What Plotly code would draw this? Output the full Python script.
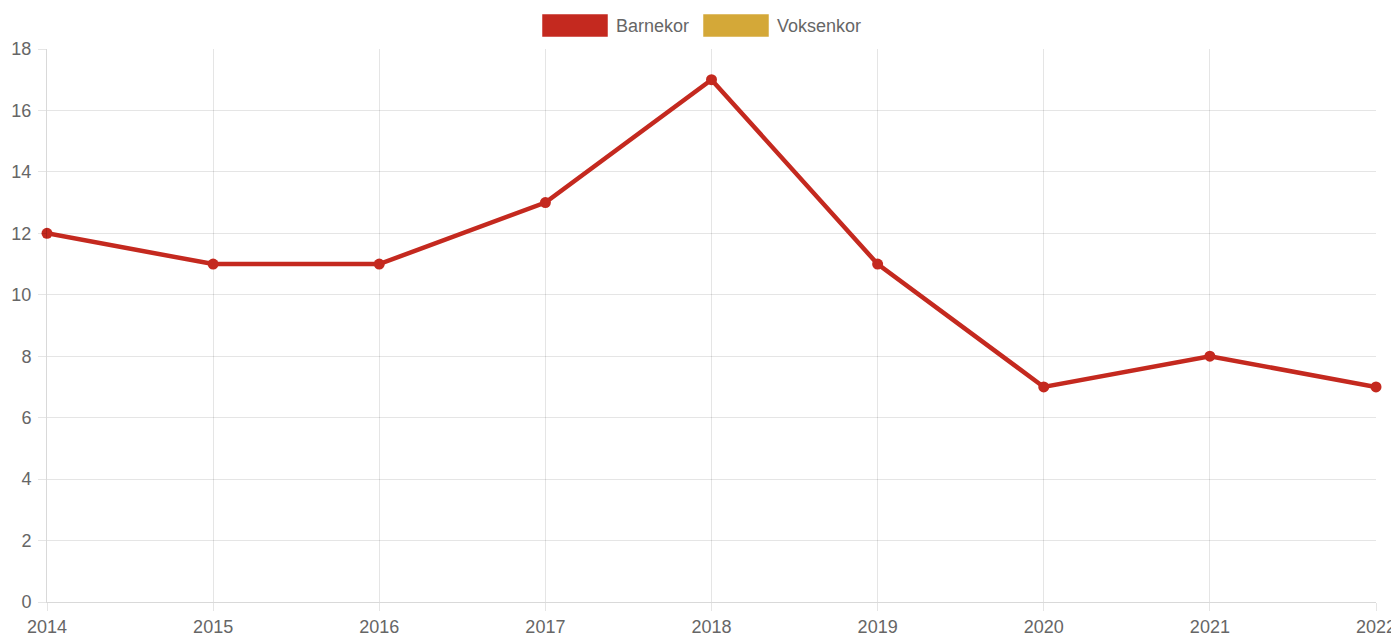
import plotly.graph_objects as go

# --- dados ---
anos = [2014, 2015, 2016, 2017, 2018, 2019, 2020, 2021, 2022]
barnekor = [12, 11, 11, 13, 17, 11, 7, 8, 7]
voksenkor = []  # sem dados visíveis
series_nomes = ["Barnekor", "Voksenkor"]
cores = ["#C4291F", "#D4A838"]

GRID = "rgba(0,0,0,0.1)"
TEXTO = "#666666"
FONTE = "Liberation Sans, Arial, sans-serif"

# dimensões (a página tem 8px de margem no body)
W, H = 1391, 630
M = dict(l=39, r=23, t=41, b=36)
OFF = 8


def px_x(p):
    """Converte pixel da página para coordenada 'paper' em x."""
    return (p - OFF - M["l"]) / (W - M["l"] - M["r"])


def px_y(p):
    """Converte pixel da página para coordenada 'paper' em y."""
    return (H - M["b"] - (p - OFF)) / (H - M["t"] - M["b"])


fig = go.Figure()
fig.add_trace(go.Scatter(
    x=anos, y=barnekor, name=series_nomes[0], mode="lines+markers",
    line=dict(color=cores[0], width=4.5),
    marker=dict(color=cores[0], size=11),
    showlegend=False, cliponaxis=False,
))
fig.add_trace(go.Scatter(
    x=anos[:len(voksenkor)], y=voksenkor, name=series_nomes[1], mode="lines+markers",
    line=dict(color=cores[1], width=4.5), showlegend=False,
))

# legenda no estilo caixa (Chart.js)
legend_x = [542, 703]
for nome, cor, lx in zip(series_nomes, cores, legend_x):
    fig.add_shape(
        type="rect", xref="paper", yref="paper",
        x0=px_x(lx), x1=px_x(lx + 66), y0=px_y(37), y1=px_y(14),
        fillcolor=cor, line=dict(color="rgba(255,255,255,0.5)", width=1),
    )
    fig.add_annotation(
        xref="paper", yref="paper",
        x=px_x(lx + 72), y=px_y(25.5),
        text=nome, showarrow=False, xanchor="left", yanchor="middle",
        font=dict(size=18, color=TEXTO, family=FONTE),
    )

eixo = dict(
    showgrid=True, gridcolor=GRID, gridwidth=1,
    ticks="outside", ticklen=8, tickcolor=GRID,
    showline=True, linecolor="rgba(0,0,0,0.15)", linewidth=1,
    zeroline=False, automargin=False,
    tickfont=dict(size=18, color=TEXTO, family=FONTE),
)
fig.update_xaxes(range=[2014, 2022], dtick=1, tickformat="d", **eixo)
fig.update_yaxes(range=[0, 18], dtick=2, ticklabelstandoff=3, **eixo)
fig.update_layout(
    width=W, height=H,
    margin=M,
    paper_bgcolor="white", plot_bgcolor="white",
    showlegend=False,
)
fig.write_html("out.html")
